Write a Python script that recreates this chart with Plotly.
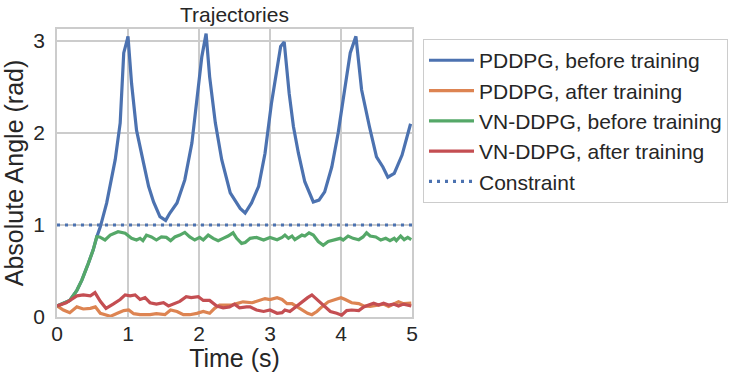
import plotly.graph_objects as go

# ---------------- data ----------------
t_pddpg_before = [0.0, 0.18, 0.28, 0.35, 0.44, 0.51, 0.56, 0.61, 0.70, 0.82, 0.89, 0.94, 0.995, 1.0,
                  1.05, 1.12, 1.22, 1.29, 1.36, 1.45, 1.53, 1.59, 1.69, 1.80, 1.90, 1.97, 2.04, 2.10,
                  2.15, 2.23, 2.32, 2.44, 2.51, 2.58, 2.65, 2.74, 2.84, 2.93, 3.02, 3.12, 3.15, 3.20,
                  3.27, 3.33, 3.40, 3.49, 3.61, 3.69, 3.77, 3.87, 3.96, 4.03, 4.13, 4.21,
                  4.29, 4.40, 4.50, 4.59, 4.66, 4.75, 4.81, 4.86, 4.98]
v_pddpg_before = [0.12, 0.18, 0.29, 0.40, 0.58, 0.73, 0.87, 0.98, 1.24, 1.71, 2.11, 2.87, 3.03, 3.05,
                  2.54, 2.03, 1.67, 1.42, 1.25, 1.09, 1.05, 1.13, 1.24, 1.49, 1.89, 2.36, 2.83, 3.08,
                  2.61, 2.11, 1.71, 1.35, 1.27, 1.18, 1.13, 1.24, 1.42, 1.78, 2.32, 2.79, 2.94, 2.99,
                  2.43, 2.07, 1.78, 1.47, 1.25, 1.27, 1.36, 1.63, 2.00, 2.36, 2.87, 3.05,
                  2.47, 2.07, 1.74, 1.63, 1.52, 1.56, 1.67, 1.76, 2.10]

t_pddpg_after = [0.0, 0.09, 0.18, 0.28, 0.37, 0.47, 0.54, 0.61, 0.68, 0.75, 0.85, 0.94, 1.01, 1.08,
                 1.17, 1.31, 1.40, 1.52, 1.60, 1.69, 1.78, 1.87, 1.97, 2.06, 2.15, 2.22, 2.29, 2.39,
                 2.46, 2.53, 2.62, 2.75, 2.84, 2.93, 3.00, 3.10, 3.17, 3.24, 3.31, 3.38, 3.45, 3.53,
                 3.59, 3.66, 3.73, 3.82, 3.92, 4.00, 4.06, 4.15, 4.25, 4.32, 4.41, 4.50, 4.60, 4.67,
                 4.74, 4.81, 4.88, 4.99]
v_pddpg_after = [0.12, 0.076, 0.047, 0.11, 0.087, 0.094, 0.11, 0.04, 0.025, 0.007, 0.04, 0.07, 0.076, 0.036,
                 0.025, 0.025, 0.036, 0.025, 0.076, 0.06, 0.025, 0.025, 0.04, 0.06, 0.04, 0.094, 0.13, 0.13,
                 0.13, 0.145, 0.165, 0.155, 0.18, 0.20, 0.19, 0.21, 0.19, 0.145, 0.145, 0.11, 0.07, 0.04,
                 0.025, 0.06, 0.11, 0.165, 0.19, 0.21, 0.19, 0.155, 0.145, 0.12, 0.115, 0.13, 0.14, 0.115,
                 0.14, 0.165, 0.145, 0.15]

t_vn_before = [0.0, 0.18, 0.28, 0.35, 0.44, 0.51, 0.56, 0.60, 0.676, 0.75, 0.86, 0.96, 1.05, 1.12,
               1.17, 1.21, 1.26, 1.33, 1.40, 1.47, 1.54, 1.60, 1.66, 1.73, 1.80, 1.87, 1.94, 2.01,
               2.06, 2.13, 2.20, 2.27, 2.34, 2.41, 2.48, 2.53, 2.60, 2.65, 2.72, 2.81, 2.91, 3.00,
               3.10, 3.17, 3.21, 3.26, 3.31, 3.35, 3.45, 3.49, 3.55, 3.61, 3.68, 3.75, 3.82, 3.92,
               3.99, 4.03, 4.10, 4.17, 4.25, 4.31, 4.36, 4.41, 4.49, 4.56, 4.63, 4.69, 4.75, 4.78,
               4.84, 4.89, 4.94, 4.99]
v_vn_before = [0.12, 0.18, 0.29, 0.40, 0.58, 0.73, 0.873, 0.87, 0.837, 0.89, 0.927, 0.91, 0.855, 0.837,
               0.855, 0.83, 0.89, 0.87, 0.837, 0.87, 0.865, 0.83, 0.87, 0.89, 0.92, 0.87, 0.837, 0.865,
               0.837, 0.89, 0.855, 0.83, 0.855, 0.88, 0.915, 0.855, 0.80, 0.81, 0.855, 0.865, 0.837, 0.865,
               0.84, 0.865, 0.89, 0.855, 0.88, 0.84, 0.89, 0.88, 0.915, 0.89, 0.82, 0.78, 0.82, 0.837,
               0.855, 0.837, 0.88, 0.855, 0.84, 0.87, 0.915, 0.88, 0.87, 0.837, 0.855, 0.83, 0.855, 0.83,
               0.88, 0.84, 0.865, 0.84]

t_vn_after = [0.0, 0.13, 0.28, 0.37, 0.47, 0.535, 0.61, 0.69, 0.79, 0.89, 0.96, 1.03, 1.10, 1.17,
              1.24, 1.31, 1.40, 1.50, 1.57, 1.64, 1.73, 1.82, 1.89, 1.99, 2.06, 2.15, 2.25, 2.34,
              2.43, 2.50, 2.57, 2.67, 2.72, 2.81, 2.91, 3.00, 3.10, 3.17, 3.21, 3.28, 3.36, 3.45,
              3.53, 3.59, 3.66, 3.75, 3.85, 3.94, 4.01, 4.08, 4.15, 4.25, 4.32, 4.39, 4.46, 4.53,
              4.60, 4.67, 4.74, 4.81, 4.88, 4.99]
v_vn_after = [0.12, 0.155, 0.23, 0.24, 0.23, 0.265, 0.17, 0.094, 0.14, 0.19, 0.24, 0.23, 0.24, 0.19,
              0.21, 0.155, 0.14, 0.155, 0.12, 0.14, 0.17, 0.22, 0.21, 0.22, 0.18, 0.18, 0.12, 0.10,
              0.11, 0.14, 0.10, 0.11, 0.11, 0.076, 0.06, 0.076, 0.04, 0.047, 0.076, 0.06, 0.11, 0.17,
              0.21, 0.24, 0.19, 0.12, 0.06, 0.04, 0.02, 0.07, 0.076, 0.07, 0.11, 0.13, 0.15, 0.13,
              0.15, 0.13, 0.14, 0.12, 0.14, 0.12]

t_constraint = [0.0, 5.0]
v_constraint = [1.0, 1.0]

names = ["PDDPG, before training", "PDDPG, after training",
         "VN-DDPG, before training", "VN-DDPG, after training", "Constraint"]
colors = ["#4C72B0", "#DD8452", "#55A868", "#C44E52"]

# ---------------- figure ----------------
FONT = "Liberation Sans, Arial, sans-serif"
TXT = "#262626"
GRID = "#cccccc"

fig = go.Figure()
series = [(t_pddpg_before, v_pddpg_before), (t_pddpg_after, v_pddpg_after),
          (t_vn_before, v_vn_before), (t_vn_after, v_vn_after)]
for (t, v), nm, c in zip(series, names[:4], colors):
    fig.add_trace(go.Scatter(x=t, y=v, mode="lines", name=nm,
                             line=dict(color=c, width=3.2)))
fig.add_trace(go.Scatter(x=t_constraint, y=v_constraint, mode="lines", name=names[4],
                         line=dict(color=colors[0], width=3.2, dash="3px,5px")))

fig.update_layout(
    width=740, height=372,
    margin=dict(l=57, r=328, t=29, b=55),
    paper_bgcolor="white", plot_bgcolor="white",
    font=dict(family=FONT, size=21, color=TXT),
    title=dict(text="Trajectories", x=0.5, xref="paper", xanchor="center",
               y=1 - 15 / 372, yref="container", yanchor="middle",
               font=dict(size=21, color=TXT)),
    showlegend=True,
    legend=dict(x=1.031, y=0.965, xanchor="left", yanchor="top",
                bgcolor="white", bordercolor=GRID, borderwidth=1,
                itemwidth=45,
                font=dict(size=21, color=TXT)),
)
fig.update_xaxes(range=[0, 5], tickvals=[0, 1, 2, 3, 4, 5], automargin=False,
                 showgrid=True, gridcolor=GRID, gridwidth=1.5,
                 showline=True, linecolor=GRID, linewidth=1.5, mirror=True,
                 zeroline=False, ticks="", ticklabelstandoff=-3,
                 title=dict(text="Time (s)", standoff=4))
fig.update_yaxes(range=[0, 3.13], tickvals=[0, 1, 2, 3], automargin=False,
                 showgrid=True, gridcolor=GRID, gridwidth=1.5,
                 showline=True, linecolor=GRID, linewidth=1.5, mirror=True,
                 zeroline=False, ticks="outside", ticklen=6, tickcolor="rgba(0,0,0,0)",
                 title=dict(text="Absolute Angle (rad)", standoff=3))

fig.write_html("out.html")
